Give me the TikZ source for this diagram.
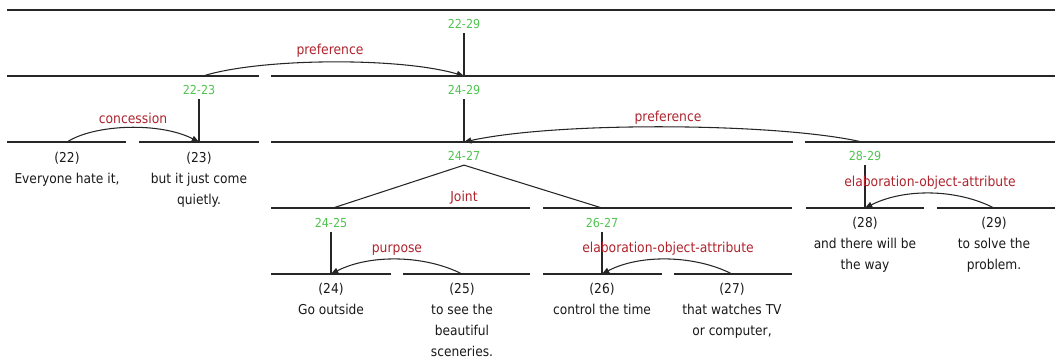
\documentclass[tikz,border=0pt]{standalone}
\usepackage{fontspec}
\setmainfont{DejaVu Sans Condensed}
\usetikzlibrary{arrows.meta}
\definecolor{spanG}{RGB}{80,195,80}
\definecolor{relR}{RGB}{175,35,45}
\begin{document}
\begin{tikzpicture}[x=0.75pt,y=-0.75pt,
  seg/.style={draw=black!85, line width=0.8pt},
  span/.style={text=spanG, font=\fontsize{9.3}{11}\selectfont, inner xsep=0pt, inner ysep=3.2pt},
  rel/.style={text=relR, font=\fontsize{10.3}{12}\selectfont, inner sep=0pt},
  edu/.style={align=center, font=\fontsize{10.2}{15.8}\selectfont, anchor=north, inner sep=0pt, text=black!90},
  arc/.style={draw=black!85, line width=0.8pt, -{Triangle[length=5.5pt,width=4.5pt]}}
]
\useasboundingbox (0,0) rectangle (1055,359);

% horizontal level lines
\draw[seg] (7,10) -- (1055,10);
\draw[seg] (7,76) -- (259,76) (271,76) -- (1055,76);
\draw[seg] (7,142) -- (126,142) (139,142) -- (259,142) (271,142) -- (793,142) (805,142) -- (1055,142);
\draw[seg] (271,208) -- (530,208) (543,208) -- (792,208) (806,208) -- (924,208) (937,208) -- (1055,208);
\draw[seg] (271,274) -- (391,274) (403,274) -- (530,274) (543,274) -- (662,274) (674,274) -- (792,274);

% span labels
\node[span] (s2229) at (464,24) {22-29};
\node[span] (s2223) at (199,90) {22-23};
\node[span] (s2429) at (464,90) {24-29};
\node[span] (s2427) at (464,156) {24-27};
\node[span] (s2829) at (865,156) {28-29};
\node[span] (s2425) at (331,223) {24-25};
\node[span] (s2627) at (602,223) {26-27};

% attachment points
\coordinate (h2229) at (464,76);
\coordinate (h2223) at (199,142);
\coordinate (h2429) at (464,142);
\coordinate (h2829) at (865,208);
\coordinate (h2425) at (331,274);
\coordinate (h2627) at (602,274);
\coordinate (j2425) at (333,208);
\coordinate (j2627) at (602,208);
\coordinate (a2223) at (203,76);
\coordinate (a22) at (67,142);
\coordinate (a2829) at (862,142);
\coordinate (a25) at (462,274);
\coordinate (a27) at (732,274);
\coordinate (a29) at (994,208);

% vertical and joint lines
\draw[seg] (s2229.south) -- (h2229);
\draw[seg] (s2223.south) -- (h2223);
\draw[seg] (s2429.south) -- (h2429);
\draw[seg] (s2829.south) -- (h2829);
\draw[seg] (s2425.south) -- (h2425);
\draw[seg] (s2627.south) -- (h2627);
\draw[seg] (s2427.south) -- (j2425);
\draw[seg] (s2427.south) -- (j2627);

% relation arcs
\draw[arc] (a2223) .. controls (260,58) and (400,57) .. (h2229);
\draw[arc] (a22) .. controls (95,124) and (160,122) .. (h2223);
\draw[arc] (a2829) .. controls (780,123) and (560,121) .. (h2429);
\draw[arc] (a25) .. controls (425,255) and (370,254) .. (h2425);
\draw[arc] (a27) .. controls (695,255) and (640,254) .. (h2627);
\draw[arc] (a29) .. controls (957,189) and (905,188) .. (h2829);

% relation labels
\node[rel] (lpref1) at (330,51) {preference};
\node[rel] (lconc) at (133,118) {concession};
\node[rel] (lpref2) at (668,118) {preference};
\node[rel] (ljoint) at (464,198) {Joint};
\node[rel] (lpurp) at (397,250) {purpose};
\node[rel] (lelab1) at (668,249) {elaboration-object-attribute};
\node[rel] (lelab2) at (930,183) {elaboration-object-attribute};

% elementary units
\node[edu] (e22) at (67,152) {(22)\\Everyone hate it,};
\node[edu] (e23) at (199,152) {(23)\\but it just come\\quietly.};
\node[edu] (e24) at (331,283) {(24)\\Go outside};
\node[edu] (e25) at (462,283) {(25)\\to see the\\beautiful\\sceneries.};
\node[edu] (e26) at (602,283) {(26)\\control the time};
\node[edu] (e27) at (732,283) {(27)\\that watches TV\\or computer,};
\node[edu] (e28) at (865,217) {(28)\\and there will be\\the way};
\node[edu] (e29) at (994,217) {(29)\\to solve the\\problem.};
\end{tikzpicture}
\end{document}
